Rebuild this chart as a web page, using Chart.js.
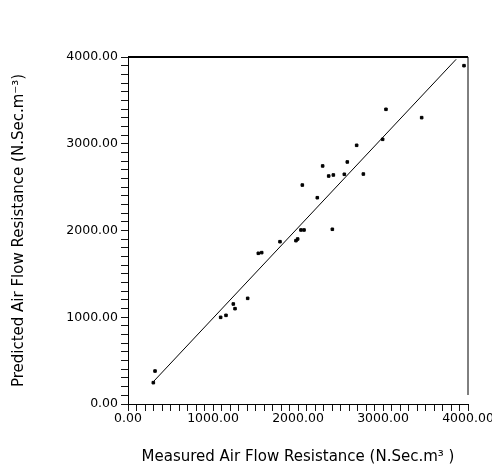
<!DOCTYPE html>
<html>
<head>
<meta charset="utf-8">
<script src="https://cdn.jsdelivr.net/npm/chart.js@4"></script>
<style>
  html, body { margin: 0; padding: 0; background: #fff; }
  #wrap { width: 492px; height: 472px; }
</style>
</head>
<body>
<div id="wrap"><canvas id="chart"></canvas></div>
<script>
// measured vs predicted air flow resistance
var measured = [318, 298, 1090, 1153, 1239, 1259, 1408, 1533, 1573, 1788, 1976, 1996, 2035, 2071,
  2051, 2227, 2290, 2361, 2416, 2404, 2545, 2580, 2690, 2769, 2996, 3035, 3455, 3953];
var predicted = [380, 246, 999, 1022, 1153, 1099, 1218, 1737, 1745, 1871, 1883, 1902, 2006, 2006,
  2524, 2378, 2744, 2628, 2640, 2014, 2648, 2790, 2982, 2651, 3051, 3397, 3301, 3900];

// fitted line end points
var fitX = [300, 3860];
var fitY = [259, 3973];

var axisMin = 0;
var axisMax = 4000;
var minorStep = 100;
var majorStep = 1000;

var pts = measured.map(function(v, i){ return {x: v, y: predicted[i]}; });
var fit = fitX.map(function(v, i){ return {x: v, y: fitY[i]}; });

var tickFont = {family: 'DejaVu Sans', size: 12.5};
var titleFont = {family: 'DejaVu Sans', size: 15};

function tickLabel(v) {
  return v % majorStep === 0 ? v.toFixed(2) : '';
}

// top and right frame lines
var frame = {
  id: 'frame',
  afterDraw: function(chart) {
    var a = chart.chartArea;
    var c = chart.ctx;
    c.save();
    c.strokeStyle = '#000';
    c.lineWidth = 2;
    c.beginPath();
    c.moveTo(a.left, a.top);
    c.lineTo(a.right, a.top);
    c.stroke();
    c.lineWidth = 1;
    c.beginPath();
    c.moveTo(a.right, a.top);
    c.lineTo(a.right, a.bottom - 9);
    c.stroke();
    c.restore();
  }
};

new Chart(document.getElementById('chart'), {
  type: 'scatter',
  data: {
    datasets: [
      {
        data: pts,
        backgroundColor: '#000',
        borderColor: '#000',
        pointStyle: 'rect',
        pointRadius: 1.8,
        pointHoverRadius: 1.8
      },
      {
        type: 'line',
        data: fit,
        borderColor: '#000',
        borderWidth: 1,
        pointRadius: 0,
        fill: false
      }
    ]
  },
  options: {
    responsive: true,
    maintainAspectRatio: false,
    animation: false,
    layout: {padding: {top: 57, right: 24, left: 0, bottom: 0}},
    plugins: {
      legend: {display: false},
      tooltip: {enabled: false}
    },
    scales: {
      x: {
        type: 'linear',
        min: axisMin,
        max: axisMax,
        afterFit: function(s){ s.height = 68; s.paddingLeft = 0; s.paddingRight = 0; },
        border: {display: true, color: '#000', width: 1},
        grid: {drawOnChartArea: false, drawTicks: true, tickLength: 7, tickColor: 'rgb(20,20,20)'},
        ticks: {
          stepSize: minorStep,
          maxTicksLimit: 100,
          autoSkip: false,
          maxRotation: 0,
          padding: 0,
          color: '#000',
          font: tickFont,
          callback: tickLabel
        },
        title: {
          display: true,
          text: 'Measured Air Flow Resistance (N.Sec.m³ )',
          color: '#000',
          font: titleFont,
          padding: {top: 0, bottom: 6}
        }
      },
      y: {
        type: 'linear',
        min: axisMin,
        max: axisMax,
        afterFit: function(s){ s.width = 128; s.paddingTop = 0; s.paddingBottom = 0; },
        border: {display: true, color: '#000', width: 1},
        grid: {drawOnChartArea: false, drawTicks: true, tickLength: 7, tickColor: 'rgb(20,20,20)'},
        ticks: {
          stepSize: minorStep,
          maxTicksLimit: 100,
          autoSkip: false,
          padding: 3,
          color: '#000',
          font: tickFont,
          callback: tickLabel
        },
        title: {
          display: true,
          text: 'Predicted Air Flow Resistance (N.Sec.m⁻³)',
          color: '#000',
          font: titleFont,
          padding: {top: 10, bottom: 0}
        }
      }
    }
  },
  plugins: [frame]
});
</script>
</body>
</html>
